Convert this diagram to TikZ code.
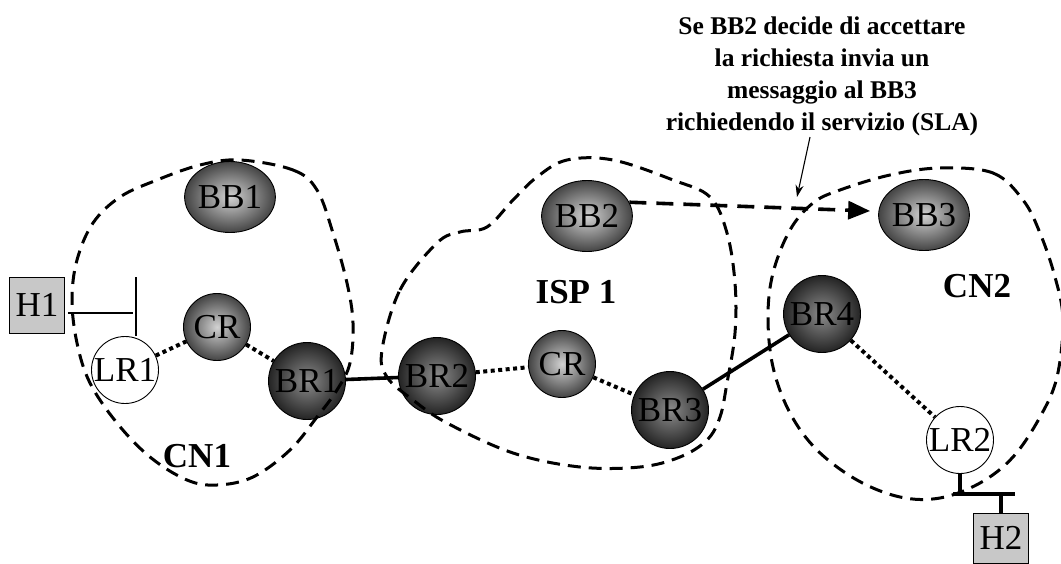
\documentclass[tikz,border=0pt]{standalone}
\usepackage{fontspec}
\setmainfont{Liberation Serif}
\usetikzlibrary{shapes.geometric,arrows.meta}
\definecolor{midIn}{RGB}{210,210,210}
\definecolor{midOut}{RGB}{68,68,68}
\definecolor{darkIn}{RGB}{140,140,140}
\definecolor{darkOut}{RGB}{36,36,36}
\definecolor{hostfill}{RGB}{200,200,200}
\tikzset{
  lbl/.style={font=\fontsize{35}{38}\selectfont},
  ballbase/.style={lbl, draw=black, line width=0.9pt, inner sep=0pt, shade},
  midball/.style={ballbase, circle, minimum size=67pt, inner color=midIn, outer color=midOut},
  darkball/.style={ballbase, circle, minimum size=77pt, inner color=darkIn, outer color=darkOut},
  bbnode/.style={ballbase, ellipse, minimum width=80pt, minimum height=71pt, inner color=midIn, outer color=midOut},
  lrnode/.style={lbl, circle, draw=black, line width=0.9pt, fill=white, minimum size=67pt, inner sep=0pt},
  host/.style={lbl, draw=black, line width=0.9pt, fill=hostfill, minimum width=55pt, minimum height=56pt, inner sep=0pt},
  region/.style={line width=3pt, dash pattern=on 13pt off 8pt},
  dotlink/.style={line width=4pt, dash pattern=on 4pt off 3.5pt},
  trunk/.style={line width=3.6pt},
  tlink/.style={line width=1.5pt},
  tbar/.style={line width=3.4pt},
  areatitle/.style={font=\bfseries\fontsize{35}{38}\selectfont},
}
\begin{document}
\begin{tikzpicture}[x=1pt,y=-1pt]
\useasboundingbox (0,0) rectangle (1061,563);
% nodes
\node[bbnode] (BB1) at (230,197) {BB1};
\node[bbnode] (BB2) at (587,216) {BB2};
\node[bbnode] (BB3) at (924,215) {BB3};
\node[host] (H1) at (37,305) {H1};
\node[host, minimum height=50pt] (H2) at (1001,538) {H2};
\node[lrnode] (LR1) at (125,370) {LR1};
\node[lrnode] (LR2) at (960,440) {LR2};
\node[midball] (CR1) at (217,327) {CR};
\node[midball] (CR2) at (562,364) {CR};
\node[darkball] (BR1) at (307,381) {BR1};
\node[darkball] (BR2) at (437,376) {BR2};
\node[darkball] (BR3) at (670,410) {BR3};
\node[darkball] (BR4) at (822,314) {BR4};
% links
\draw[dotlink] (LR1) -- (CR1);
\draw[dotlink] (CR1) -- (BR1);
\draw[dotlink] (BR2) -- (CR2);
\draw[dotlink] (CR2) -- (BR3);
\draw[dotlink] (BR4) -- (LR2);
\draw[trunk] (BR1) -- (BR2);
\draw[trunk] (BR3) -- (BR4);
% host 1 attachment
\coordinate (h1e) at (133,313);
\coordinate (t1a) at (136,277);
\draw[tlink] ([xshift=3pt,yshift=-8pt]H1.east) -- (h1e);
\draw[tlink] (t1a) -- (t1a |- LR1.north);
% host 2 attachment
\coordinate (b2l) at (953,494);
\coordinate (b2r) at (1015,494);
\draw[tbar] (b2l) -- (b2r);
\draw[tbar] (LR2.south) -- (LR2.south |- b2l);
\draw[tbar] (H2.north) -- (H2.north |- b2l);
% regions
\draw[region] plot[smooth cycle, tension=0.6] coordinates {
 (240,160) (293,170) (317,190) (333,233) (347,283) (353,323) (350,363)
 (337,390) (317,417) (290,450) (253,477) (217,485) (187,480) (150,457)
 (117,423) (90,383) (77,343) (72,300) (77,260) (93,223) (120,197) (157,180) (200,165)};
\draw[region] plot[smooth cycle, tension=0.6] coordinates {
 (382,350) (400,290) (437,243) (460,232) (487,227) (513,200) (537,177)
 (567,160) (613,160) (673,180) (710,197) (727,233) (735,283) (735,333)
 (727,383) (720,417) (707,440) (680,457) (640,467) (580,467) (513,453)
 (447,423) (413,400) (387,377)};
\draw[region] plot[smooth cycle, tension=0.6] coordinates {
 (940,168) (993,173) (1023,200) (1040,233) (1055,277) (1063,320) (1057,377)
 (1040,417) (1013,457) (980,483) (940,498) (900,497) (857,480) (817,450)
 (790,413) (773,367) (768,317) (773,273) (790,230) (813,203) (840,190) (890,175)};
% area titles
\node[areatitle] (cn1) at (197,456) {CN1};
\node[areatitle] (isp) at (576,292) {ISP 1};
\node[areatitle] (cn2) at (977,286) {CN2};
% BB2 -> BB3 request
\draw[line width=3.6pt, dash pattern=on 17pt off 10pt, -{Triangle[length=22pt,width=18pt]}]
  (BB2.18) -- ([xshift=-8pt,yshift=4pt]BB3.west);
% annotation
\node[font=\bfseries\fontsize{25.5}{32}\selectfont, align=center] (note) at (822,76)
 {Se BB2 decide di accettare\\la richiesta invia un\\messaggio al BB3\\richiedendo il servizio (SLA)};
\coordinate (tip) at (797,197);
\draw[line width=1.1pt, -{Stealth[length=12pt,width=8pt]}] ([xshift=-12pt,yshift=2pt]note.south) -- (tip);
\end{tikzpicture}
\end{document}
